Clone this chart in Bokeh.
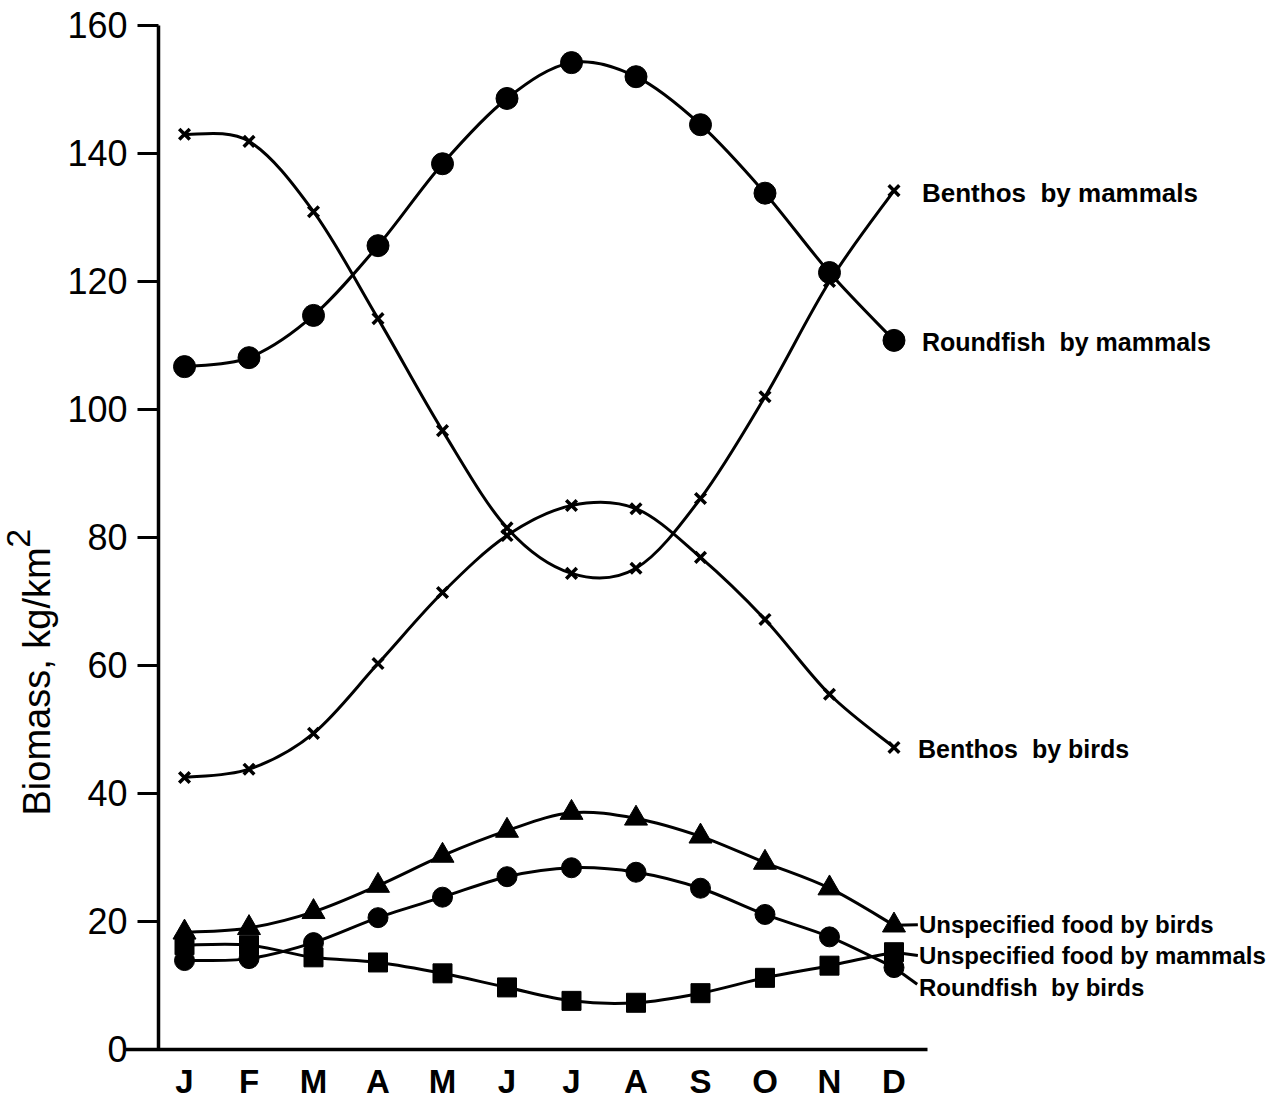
import numpy as np
from bokeh.plotting import figure
from bokeh.models import FixedTicker, Label, Range1d
from bokeh.embed import file_html
from bokeh.resources import INLINE

# Monthly biomass consumed (kg/km^2)
months = ["J", "F", "M", "A", "M", "J", "J", "A", "S", "O", "N", "D"]
benthos_by_mammals = [143.0, 141.9, 130.9, 114.2, 96.7, 81.5, 74.4, 75.2, 86.1, 102.0, 120.0, 134.2]
roundfish_by_mammals = [106.7, 108.1, 114.7, 125.6, 138.4, 148.6, 154.2, 152.0, 144.5, 133.8, 121.4, 110.8]
benthos_by_birds = [42.5, 43.8, 49.4, 60.3, 71.4, 80.3, 85.0, 84.5, 76.9, 67.2, 55.5, 47.2]
unspecified_by_birds = [18.3, 19.0, 21.5, 25.6, 30.3, 34.2, 37.0, 36.1, 33.3, 29.2, 25.2, 19.4]
unspecified_by_mammals = [16.3, 16.3, 14.4, 13.6, 11.9, 9.7, 7.6, 7.3, 8.8, 11.2, 13.1, 15.2]
roundfish_by_birds = [13.9, 14.2, 16.7, 20.6, 23.8, 27.0, 28.4, 27.7, 25.2, 21.1, 17.6, 12.8]
y_ticks = [0, 20, 40, 60, 80, 100, 120, 140, 160]

x = list(range(len(months)))
FONT = "Liberation Sans"

# The frame fills the whole canvas; both axes are pinned at data positions
# so that labels placed beside the curves are never clipped.
p = figure(width=1281, height=1103, output_backend="svg", toolbar_location=None,
           x_range=Range1d(-2.853, 17.008), y_range=Range1d(-8.4375, 163.906),
           min_border=0)
p.background_fill_color = "white"
p.border_fill_color = "white"
p.outline_line_color = None
p.xgrid.visible = False
p.ygrid.visible = False

# x axis: month initials, no tick marks; its line overhangs the y axis
xa = p.xaxis[0]
xa.fixed_location = 0
xa.bounds = (-0.915, 11.519)
xa.ticker = FixedTicker(ticks=x)
xa.major_label_overrides = {i: m for i, m in enumerate(months)}
xa.axis_line_width = 3.5
xa.axis_line_color = "black"
xa.major_tick_line_color = None
xa.minor_tick_line_color = None
xa.major_tick_out = 0
xa.major_tick_in = 0
xa.major_label_standoff = 14
xa.major_label_text_font = FONT
xa.major_label_text_font_style = "bold"
xa.major_label_text_font_size = "33px"
xa.major_label_text_color = "black"

ya = p.yaxis[0]
ya.fixed_location = -0.403
ya.bounds = (0, 160)
ya.ticker = FixedTicker(ticks=y_ticks)
ya.axis_line_width = 3.5
ya.axis_line_color = "black"
ya.major_tick_line_width = 3
ya.major_tick_line_color = "black"
ya.major_tick_out = 21
ya.major_tick_in = 0
ya.minor_tick_line_color = None
ya.major_label_standoff = 10
ya.major_label_text_font = FONT
ya.major_label_text_font_size = "36px"
ya.major_label_text_color = "black"


def smooth(xs, ys):
    """Catmull-Rom control points for a smooth curve through the points."""
    P = np.column_stack([xs, ys]).astype(float)
    prev = np.vstack([P[0], P[:-1]])
    nxt = np.vstack([P[1:], P[-1]])
    c0 = P[:-1] + (nxt[:-1] - prev[:-1]) / 6.0
    c1 = P[1:] - (nxt[1:] - prev[1:]) / 6.0
    return dict(x0=P[:-1, 0], y0=P[:-1, 1], x1=P[1:, 0], y1=P[1:, 1],
                cx0=c0[:, 0], cy0=c0[:, 1], cx1=c1[:, 0], cy1=c1[:, 1])


series = [
    # values, marker, size, label, font px, label offsets (px), leader end (dx, dy in data units)
    (benthos_by_mammals, "x", 15, "Benthos  by mammals", 26, 28, -2, None),
    (roundfish_by_mammals, "circle", 22, "Roundfish  by mammals", 25, 28, -2, None),
    (benthos_by_birds, "x", 15, "Benthos  by birds", 25, 24, -2, None),
    (unspecified_by_birds, "triangle", 23, "Unspecified food by birds", 24, 25, 1, (0.37, 0.1)),
    (unspecified_by_mammals, "square", 19, "Unspecified food by mammals", 24, 25, -3, (0.37, -0.5)),
    (roundfish_by_birds, "circle", 20, "Roundfish  by birds", 24, 25, -20, (0.36, -2.6)),
]

for vals, marker, size, text, fsize, xoff, yoff, leader in series:
    p.bezier(**smooth(x, vals), line_color="black", line_width=3)
    if leader is not None:
        p.segment(x0=[x[-1]], y0=[vals[-1]], x1=[x[-1] + leader[0]], y1=[vals[-1] + leader[1]],
                  line_color="black", line_width=3)
    if marker == "x":
        p.scatter(x, vals, marker="x", size=size, line_color="black", line_width=3.5)
    else:
        p.scatter(x, vals, marker=marker, size=size, fill_color="black", line_color="black")
    p.add_layout(Label(x=x[-1], y=vals[-1], x_offset=xoff, y_offset=yoff,
                       text=text.replace("  ", "\u00a0 "),
                       text_font=FONT, text_font_style="bold", text_font_size=f"{fsize}px",
                       text_baseline="middle", text_align="left", text_color="black"))

# y axis title with a raised "2"
p.add_layout(Label(x=-2.294, y=36.56, text="Biomass, kg/km", angle=np.pi / 2,
                   text_align="left", text_baseline="alphabetic",
                   text_font=FONT, text_font_size="38px", text_color="black"))
p.add_layout(Label(x=-2.575, y=78.4, text="2", angle=np.pi / 2,
                   text_align="left", text_baseline="alphabetic",
                   text_font=FONT, text_font_size="34px", text_color="black"))

open("out.html", "w").write(file_html(p, INLINE))
